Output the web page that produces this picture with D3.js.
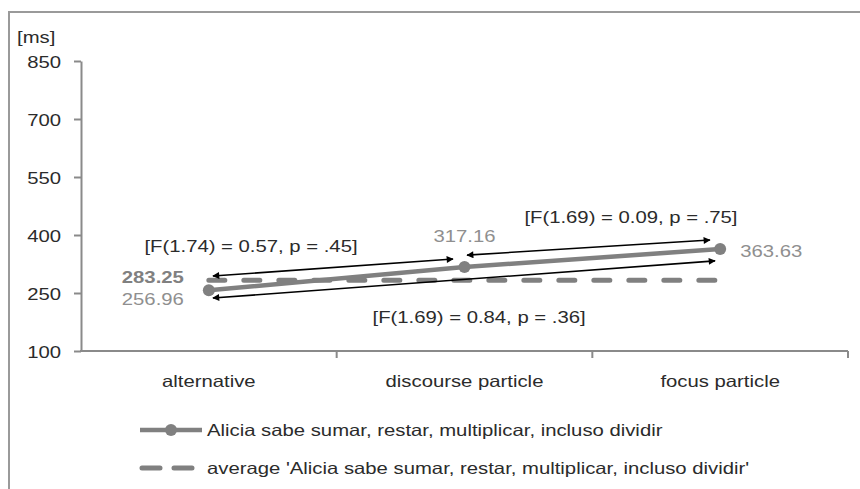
<!DOCTYPE html>
<html>
<head>
<meta charset="utf-8">
<script src="https://cdn.jsdelivr.net/npm/d3@7"></script>
<style>
  body { margin: 0; background: #fff; }
  svg text { font-family: "Liberation Sans", Arial, sans-serif; font-size: 16.5px; }
</style>
</head>
<body>
<svg id="chart" width="860" height="489"></svg>
<script>
//DATA////////////////////////////////
var categories = ["alternative", "discourse particle", "focus particle"];
var sentenceValues = [256.96, 317.16, 363.63];
var averageValues = [283.25, 283.25, 283.25];
var yTicks = [100, 250, 400, 550, 700, 850];
var seriesNames = [
  "Alicia sabe sumar, restar, multiplicar, incluso dividir",
  "average 'Alicia sabe sumar, restar, multiplicar, incluso dividir'"
];
// stats annotations: [category index, value]
var statLabels = [
  { text: "[F(1.74) = 0.57, p = .45]", i: 0.165, v: 356 },
  { text: "[F(1.69) = 0.84, p = .36]", i: 1.057, v: 172 },
  { text: "[F(1.69) = 0.09, p = .75]", i: 1.651, v: 431 }
];
var arrows = [
  { i0: 0.016, v0: 294, i1: 0.955, v1: 338 },
  { i0: 0.016, v0: 237, i1: 1.98, v1: 333 },
  { i0: 1.01, v0: 348, i1: 1.96, v1: 387 }
];

//LAYOUT/////////////////////////////
var STRETCH = 1.23; // text in the picture is wider than normal
var grey = "#808080";
var textCol = "#2b2b2b";
var svg = d3.select("#chart");

// frame
svg.append("path")
  .attr("d", "M9,489 L9,12 L860,12")
  .attr("fill", "none").attr("stroke", "#9a9a9a").attr("stroke-width", 2);

var xBand = d3.scaleBand().domain(categories).range([81, 848]);
var xIdx = d3.scaleLinear().domain([0, 2])
  .range([xBand(categories[0]) + xBand.bandwidth() / 2, xBand(categories[2]) + xBand.bandwidth() / 2]);
var y = d3.scaleLinear().domain([100, 850]).range([351, 61]);

function stretchText(sel, x, yy) {
  sel.attr("x", 0).attr("y", 0)
    .attr("transform", "translate(" + x + "," + yy + ") scale(" + STRETCH + ",1)");
}

//Y AXIS
var yAxis = svg.append("g").attr("transform", "translate(81,0)")
  .call(d3.axisLeft(y).tickValues(yTicks).tickSize(7).tickSizeOuter(0));
yAxis.select(".domain").attr("stroke", "#8a8a8a").attr("stroke-width", 2);
yAxis.selectAll(".tick line").attr("stroke", "#8a8a8a").attr("stroke-width", 2);
yAxis.selectAll(".tick text").each(function () {
  d3.select(this).attr("dy", null).attr("fill", textCol).attr("font-size", 16.5)
    .attr("font-family", null);
  stretchText(d3.select(this), -20, 6);
});

svg.append("text").text("[ms]").attr("fill", textCol)
  .call(stretchText, 17, 43);

//X AXIS
svg.append("line").attr("x1", 80).attr("x2", 848).attr("y1", y(100)).attr("y2", y(100))
  .attr("stroke", "#8a8a8a").attr("stroke-width", 2);
svg.selectAll(".xtick").data(categories).enter().append("line")
  .attr("x1", function (d) { return xBand(d) + xBand.bandwidth(); })
  .attr("x2", function (d) { return xBand(d) + xBand.bandwidth(); })
  .attr("y1", y(100)).attr("y2", y(100) + 7)
  .attr("stroke", "#8a8a8a").attr("stroke-width", 2);
svg.selectAll(".xlab").data(categories).enter().append("text")
  .text(function (d) { return d; })
  .attr("text-anchor", "middle").attr("fill", textCol)
  .each(function (d) {
    stretchText(d3.select(this), xBand(d) + xBand.bandwidth() / 2, y(100) + 36);
  });

//LINES
var lineGen = d3.line()
  .x(function (d, i) { return xIdx(i); })
  .y(function (d) { return y(d); });

svg.append("path").datum(averageValues)
  .attr("d", lineGen).attr("fill", "none")
  .attr("stroke", grey).attr("stroke-width", 5)
  .attr("stroke-linecap", "round").attr("stroke-dasharray", "16,19");

svg.append("path").datum(sentenceValues)
  .attr("d", lineGen).attr("fill", "none")
  .attr("stroke", grey).attr("stroke-width", 4.5);
svg.selectAll(".pt").data(sentenceValues).enter().append("circle")
  .attr("cx", function (d, i) { return xIdx(i); })
  .attr("cy", function (d) { return y(d); })
  .attr("r", 6).attr("fill", grey);

//ARROWS
var defs = svg.append("defs");
defs.append("marker").attr("id", "head").attr("viewBox", "0 0 10 10")
  .attr("refX", 9).attr("refY", 5).attr("markerWidth", 11).attr("markerHeight", 7)
  .attr("markerUnits", "userSpaceOnUse").attr("orient", "auto-start-reverse")
  .append("path").attr("d", "M0,0 L10,5 L0,10 Z").attr("fill", "#000");

svg.selectAll(".arrow").data(arrows).enter().append("line")
  .attr("x1", function (d) { return xIdx(d.i0); })
  .attr("y1", function (d) { return y(d.v0); })
  .attr("x2", function (d) { return xIdx(d.i1); })
  .attr("y2", function (d) { return y(d.v1); })
  .attr("stroke", "#000").attr("stroke-width", 1.6)
  .attr("marker-start", "url(#head)").attr("marker-end", "url(#head)");

svg.selectAll(".stat").data(statLabels).enter().append("text")
  .text(function (d) { return d.text; })
  .attr("text-anchor", "middle").attr("fill", textCol)
  .each(function (d) { stretchText(d3.select(this), xIdx(d.i), y(d.v)); });

//VALUE LABELS
var labCol = "#8f8f8f";
svg.append("text").text(averageValues[0].toFixed(2))
  .attr("text-anchor", "end").attr("fill", "#808080").attr("font-weight", "bold")
  .call(stretchText, xIdx(0) - 25, y(averageValues[0]) + 3);
svg.append("text").text(sentenceValues[0].toFixed(2))
  .attr("text-anchor", "end").attr("fill", labCol)
  .call(stretchText, xIdx(0) - 25, y(sentenceValues[0]) + 15);
svg.append("text").text(sentenceValues[1].toFixed(2))
  .attr("text-anchor", "middle").attr("fill", labCol)
  .call(stretchText, xIdx(1), y(sentenceValues[1]) - 25);
svg.append("text").text(sentenceValues[2].toFixed(2))
  .attr("text-anchor", "start").attr("fill", labCol)
  .call(stretchText, xIdx(2) + 20, y(sentenceValues[2]) + 8);

//LEGEND
var leg1 = svg.append("g");
leg1.append("line").attr("x1", 140).attr("x2", 202).attr("y1", 430).attr("y2", 430)
  .attr("stroke", grey).attr("stroke-width", 4.5);
leg1.append("circle").attr("cx", 171).attr("cy", 430).attr("r", 6).attr("fill", grey);
leg1.append("text").text(seriesNames[0]).attr("fill", textCol)
  .call(stretchText, 207, 436);

var leg2 = svg.append("g");
leg2.append("line").attr("x1", 142).attr("x2", 196).attr("y1", 468).attr("y2", 468)
  .attr("stroke", grey).attr("stroke-width", 5)
  .attr("stroke-linecap", "round").attr("stroke-dasharray", "18,14");
leg2.append("text").text(seriesNames[1]).attr("fill", textCol)
  .call(stretchText, 207, 474);
</script>
</body>
</html>
